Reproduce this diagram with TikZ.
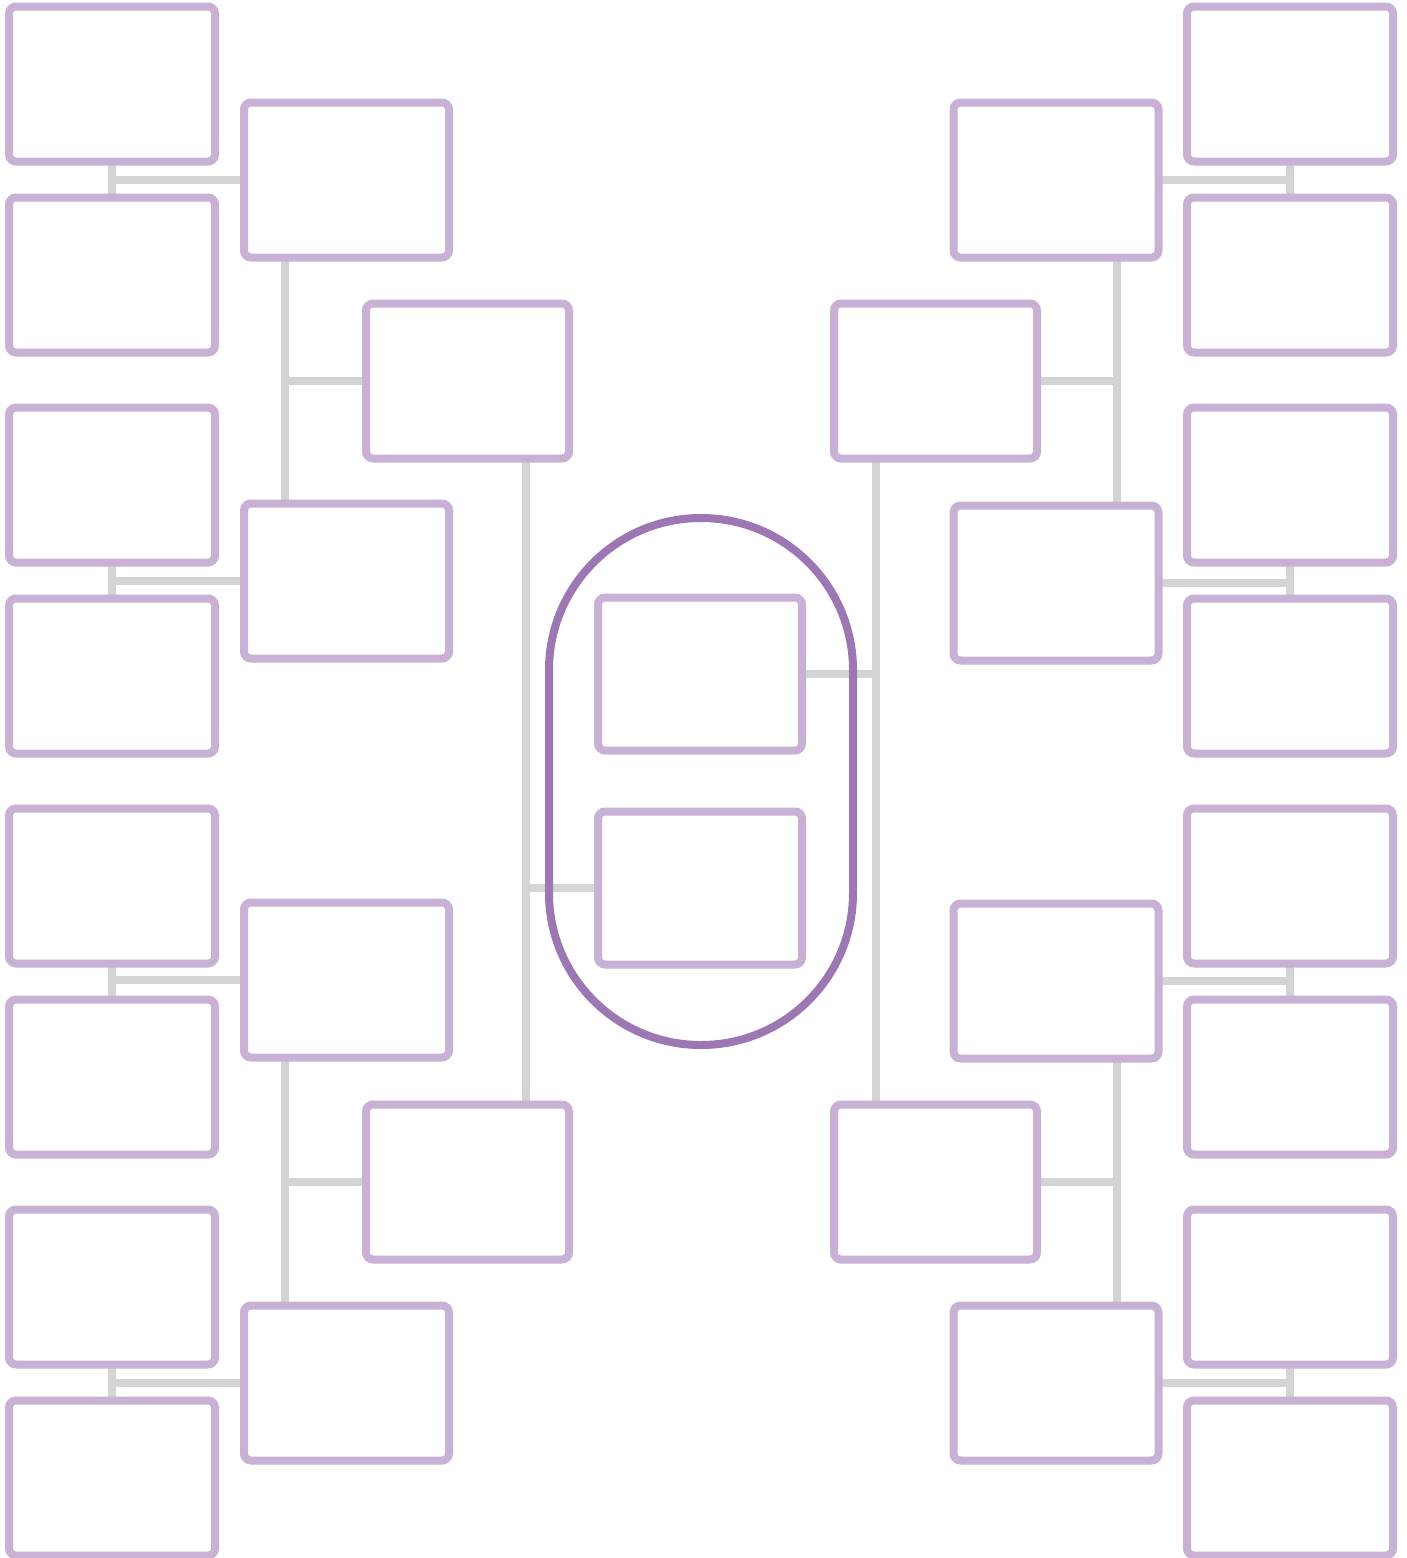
\documentclass[tikz,border=0pt]{standalone}
\definecolor{boxc}{HTML}{C8B1D5}
\definecolor{linec}{HTML}{D3D4D5}
\definecolor{stadc}{HTML}{9C77B4}
\pgfdeclarelayer{bg}
\pgfsetlayers{bg,main}
\tikzset{
  box/.style={draw=boxc, line width=8pt, rounded corners=7pt, fill=white,
    minimum width=205pt, minimum height=155pt, inner sep=0pt, outer sep=0pt},
  link/.style={draw=linec, line width=7.5pt},
  stadium/.style={draw=stadc, line width=8pt, minimum width=304pt,
    minimum height=527pt, rounded corners=151.9pt, inner sep=0pt, outer sep=0pt},
}
\begin{document}
\begin{tikzpicture}[x=1pt,y=-1pt]
\useasboundingbox (0,0) rectangle (1407,1558);
% column 1 left / right
\foreach \n/\y in {1/84,2/275,3/485,4/676,5/886,6/1077,7/1287,8/1478}{
  \node[box, minimum width=206pt] (l\n) at (112,\y) {};
  \node[box, minimum width=206pt] (r\n) at (1290,\y) {};
}
% column 2
\node[box] (la) at (346.5,180) {};
\node[box] (lb) at (346.5,581) {};
\node[box] (lc) at (346.5,980) {};
\node[box] (ld) at (346.5,1383) {};
\node[box] (ra) at (1056,180) {};
\node[box] (rb) at (1056,583) {};
\node[box] (rc) at (1056,981) {};
\node[box] (rd) at (1056,1383) {};
% column 3
\node[box, minimum width=203pt] (lA) at (467.5,381) {};
\node[box, minimum width=203pt] (lB) at (467.5,1182) {};
\node[box, minimum width=203pt] (rA) at (935.5,381) {};
\node[box, minimum width=203pt] (rB) at (935.5,1182) {};
% centre
\node[box, minimum width=204pt, minimum height=153pt] (cu) at (700,674) {};
\node[box, minimum width=204pt, minimum height=153pt] (cd) at (700,888) {};
% helper x positions
\coordinate (xl2) at (285,0);
\coordinate (xr2) at (1117,0);
\coordinate (xl3) at (526,0);
\coordinate (xr3) at (876,0);
\begin{pgfonlayer}{bg}
  % round 1 pairs
  \foreach \a/\b/\c in {1/2/a,3/4/b,5/6/c,7/8/d}{
    \draw[link] (l\a.south) -- (l\b.north);
    \draw[link] (l\c.west) -- (l\c.west -| l\a.south);
    \draw[link] (r\a.south) -- (r\b.north);
    \draw[link] (r\c.east) -- (r\c.east -| r\a.south);
  }
  % round 2
  \draw[link] (la.south -| xl2) -- (lb.north -| xl2);
  \draw[link] (lA.west) -- (lA.west -| xl2);
  \draw[link] (lc.south -| xl2) -- (ld.north -| xl2);
  \draw[link] (lB.west) -- (lB.west -| xl2);
  \draw[link] (ra.south -| xr2) -- (rb.north -| xr2);
  \draw[link] (rA.east) -- (rA.east -| xr2);
  \draw[link] (rc.south -| xr2) -- (rd.north -| xr2);
  \draw[link] (rB.east) -- (rB.east -| xr2);
  % round 3
  \draw[link] (lA.south -| xl3) -- (lB.north -| xl3);
  \draw[link] (cd.west) -- (cd.west -| xl3);
  \draw[link] (rA.south -| xr3) -- (rB.north -| xr3);
  \draw[link] (cu.east) -- (cu.east -| xr3);
\end{pgfonlayer}
% final stadium
\node[stadium] (st) at (701,781.5) {};
\end{tikzpicture}
\end{document}
